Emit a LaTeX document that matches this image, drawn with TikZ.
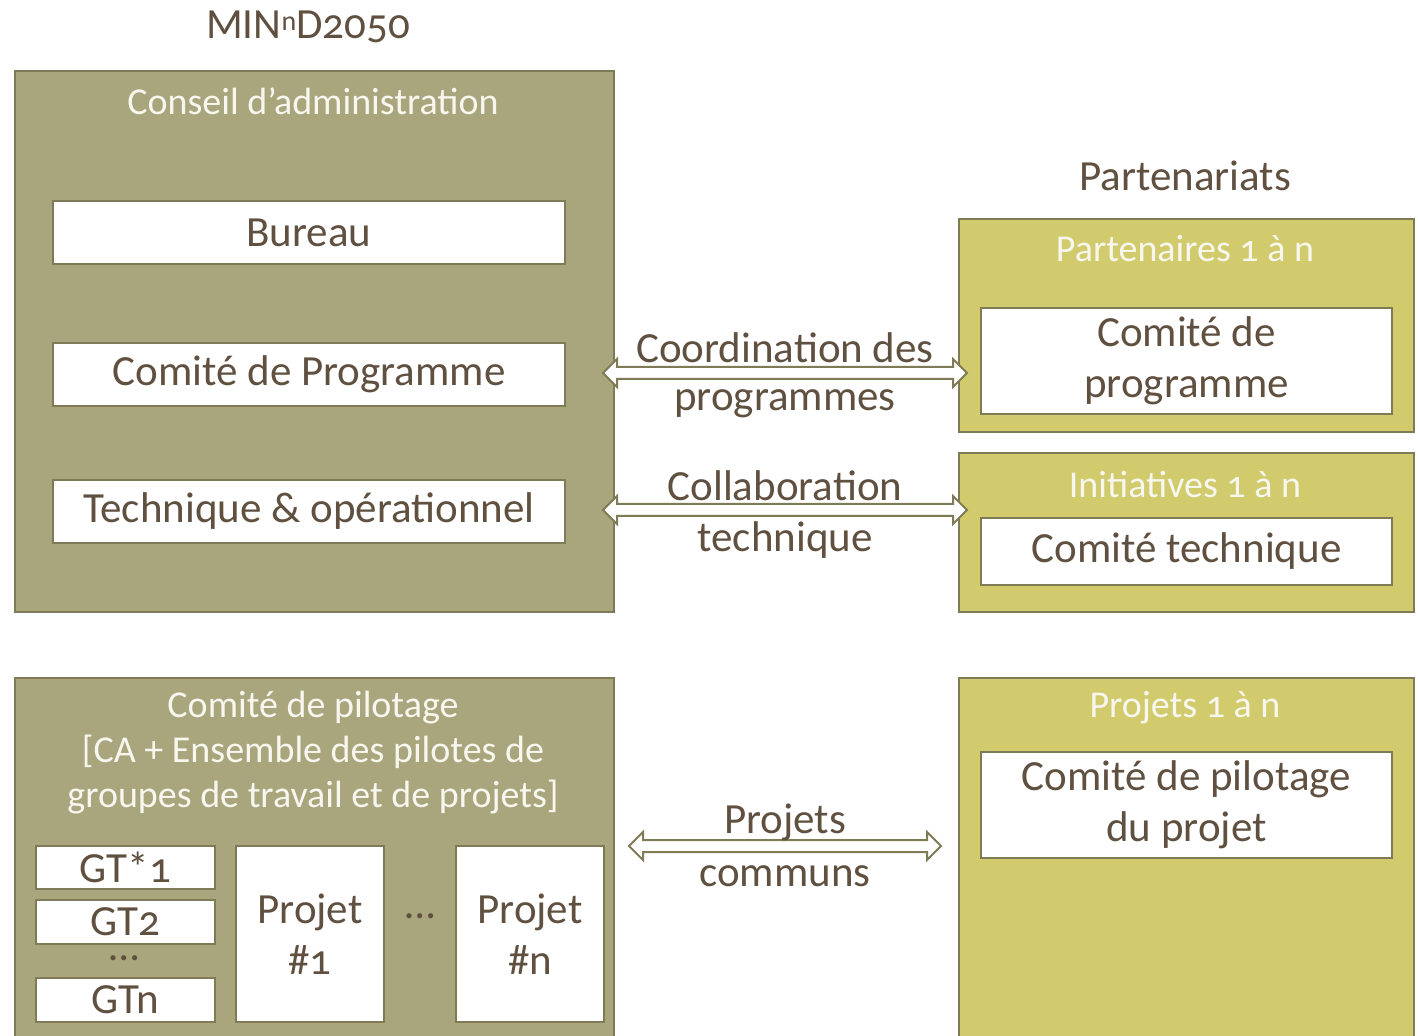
\documentclass[tikz,border=0pt]{standalone}
\usepackage{fontspec}
\setmainfont[Numbers=OldStyle]{Carlito}
\usetikzlibrary{shapes.arrows,positioning,calc}

\definecolor{caolive}{HTML}{A9A57C}
\definecolor{caedge}{HTML}{7F7B56}
\definecolor{calight}{HTML}{D1CB6D}
\definecolor{catext}{HTML}{5F5040}
\definecolor{cahead}{HTML}{F7F7F0}

\tikzset{
    container/.style={draw=caedge,fill=#1,line width=1pt,anchor=north west,inner sep=0pt},
    whitebox/.style={draw=caedge,fill=white,line width=1pt,anchor=north west,inner sep=0pt,
        text=catext,align=center,font=\fontsize{21.5}{25.5}\selectfont},
    headtext/.style={text=cahead,align=center,font=\fontsize{19}{22.5}\selectfont},
    lbl/.style={text=catext,align=center,font=\fontsize{21.5}{25.5}\selectfont},
    dblarrow/.style={double arrow,draw=caedge,fill=white,line width=1pt,inner sep=0pt,
        inner ysep=2.5pt,double arrow head extend=4pt}
}

\begin{document}
\begin{tikzpicture}[x=0.5pt,y=-0.5pt]
    \useasboundingbox (0,0) rectangle (1418,1036);

    % MINnD2050 side
    \node[lbl] (title) at (308,27) {MIN{\fontsize{14}{14}\selectfont\raisebox{0.62ex}{n}}D2050};
    \node[container=caolive,minimum width=299.5pt,minimum height=270.5pt] (ca) at (14,70) {};
    \node[headtext] (catitle) at (313,101) {Conseil d’administration};
    \node[whitebox,minimum width=256pt,minimum height=31.5pt] (bureau) at (52,200) {Bureau};
    \node[whitebox,minimum width=256pt,minimum height=31.5pt] (prog) at (52,342) {Comité de Programme};
    \node[whitebox,minimum width=256pt,minimum height=31.5pt] (tech) at (52,479) {Technique \& opérationnel};

    % partnerships
    \node[lbl] (parttitle) at (1185,176) {Partenariats};
    \node[container=calight,minimum width=227.5pt,minimum height=106.5pt] (partners) at (958,218) {};
    \node[headtext] (parthead) at (1185,249) {Partenaires 1 à n};
    \node[whitebox,minimum width=205.5pt,minimum height=53pt] (pcomite) at (980,307) {Comité de\\programme};
    \node[container=calight,minimum width=227.5pt,minimum height=79.5pt] (init) at (958,452) {};
    \node[headtext] (inithead) at (1185,485) {Initiatives 1 à n};
    \node[whitebox,minimum width=205.5pt,minimum height=33.5pt] (ctech) at (980,517) {Comité technique};

    % steering
    \node[container=caolive,minimum width=299.5pt,minimum height=185pt] (pilot) at (14,677) {};
    \node[headtext] (pilothead) at (313,753) {Comité de pilotage\\{}[CA + Ensemble des pilotes de\\groupes de travail et de projets]};
    \node[whitebox,minimum width=89.5pt,minimum height=21.5pt] (gt1) at (35,845) {GT*1};
    \node[whitebox,minimum width=89.5pt,minimum height=22pt] (gt2) at (35,899) {GT2};
    \node[lbl,inner sep=0pt] (gtdots) at (124,958) {…};
    \node[whitebox,minimum width=89.5pt,minimum height=22pt] (gtn) at (35,977) {GTn};
    \node[whitebox,minimum width=74pt,minimum height=88pt] (proj1) at (235,845) {Projet\\\#1};
    \node[lbl] (projdots) at (420,916) {…};
    \node[whitebox,minimum width=74pt,minimum height=88pt] (projn) at (455,845) {Projet\\\#n};

    \node[container=calight,minimum width=227.5pt,minimum height=185pt] (projets) at (958,677) {};
    \node[headtext] (projhead) at (1185,708) {Projets 1 à n};
    \node[whitebox,minimum width=205.5pt,minimum height=53pt] (cpilot) at (980,751) {Comité de pilotage\\du projet};

    % links
    \coordinate (a1l) at (603,373);
    \coordinate (a1r) at (967,373);
    \coordinate (a2l) at (603,510);
    \coordinate (a2r) at (967,510);
    \coordinate (a3l) at (629,846);
    \coordinate (a3r) at (941,846);
    \node[dblarrow,minimum height=182pt] (coord) at ($(a1l)!.5!(a1r)$) {};
    \node[dblarrow,minimum height=182pt] (collab) at ($(a2l)!.5!(a2r)$) {};
    \node[dblarrow,minimum height=156pt] (communs) at ($(a3l)!.5!(a3r)$) {};
    \node[lbl] (coordtop) at (785,348) {Coordination des};
    \node[lbl] (coordbot) at (785,404) {programmes};
    \node[lbl] (collabtop) at (785,486) {Collaboration};
    \node[lbl] (collabbot) at (785,540) {technique};
    \node[lbl] (commtop) at (785,822) {Projets};
    \node[lbl] (commbot) at (785,876) {communs};
\end{tikzpicture}
\end{document}
